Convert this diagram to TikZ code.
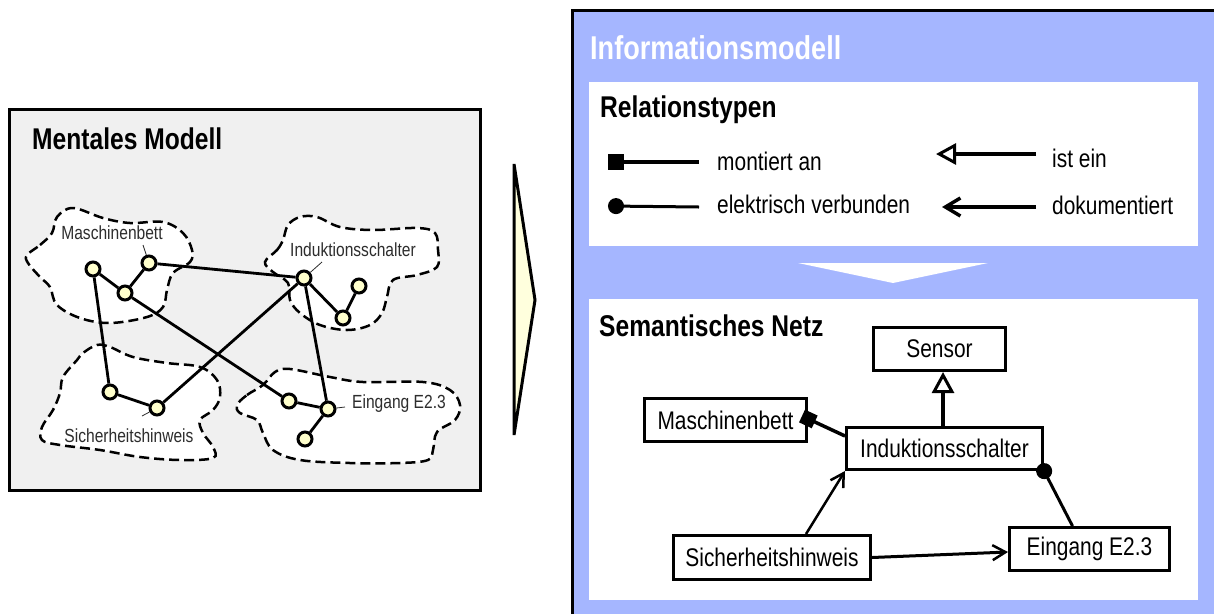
\documentclass[tikz,border=0pt]{standalone}
\usepackage{fontspec}
\setmainfont{Liberation Sans}[FakeStretch=0.82]
\usetikzlibrary{arrows.meta,calc}
\definecolor{panelblue}{RGB}{165,182,255}
\definecolor{leftgray}{RGB}{240,240,240}
\definecolor{nodeyellow}{RGB}{255,255,204}
\definecolor{chevroncol}{RGB}{255,255,221}
\definecolor{labelgray}{RGB}{45,45,45}
\begin{document}
\begin{tikzpicture}[x=1pt,y=-1pt,
  mnode/.style={circle, draw=black, line width=3pt, fill=nodeyellow, minimum size=14pt, inner sep=0pt},
  medge/.style={line width=2.8pt},
  blob/.style={draw=black, dash pattern=on 10pt off 5pt, line width=2.5pt, fill=white},
  mlabel/.style={font=\fontsize{19}{22}\selectfont, text=labelgray, inner sep=0pt},
  leader/.style={line width=0.8pt, draw=labelgray},
  bigtitle/.style={font=\fontsize{30}{34}\selectfont\bfseries, inner sep=0pt, anchor=base west},
  sbox/.style={draw=black, line width=3pt, fill=white, font=\fontsize{25.5}{28}\selectfont, inner sep=0pt},
  ltext/.style={font=\fontsize{25.5}{28}\selectfont, inner sep=0pt, anchor=base west},
]
\useasboundingbox (0,0) rectangle (1214,614);
\fill[white] (0,0) rectangle (1214,614);

% ---------- left panel ----------
\draw[line width=3pt, fill=leftgray] (9.5,109.5) rectangle (480.5,490.5);
\node[bigtitle] (mtitle) at (32,149) {Mentales Modell};

\draw[blob] plot[smooth cycle, tension=0.6] coordinates {(27,255) (40,245) (52,233) (57,217) (73,208) (103,218) (130,223) (163,222) (183,233) (192,250) (190,262) (173,273) (167,290) (163,307) (147,317) (110,323) (80,318) (57,305) (50,287) (40,277) (28,263)};
\draw[blob] plot[smooth cycle, tension=0.6] coordinates {(265,262) (277,250) (283,240) (288,225) (300,217) (317,217) (340,227) (373,230) (417,228) (435,233) (438,250) (437,267) (417,275) (393,280) (387,297) (382,313) (370,325) (347,330) (320,325) (300,313) (290,300) (288,283) (273,272)};
\draw[blob] plot[smooth cycle, tension=0.6] coordinates {(237,405) (247,395) (263,385) (275,372) (290,369) (330,377) (363,382) (423,382) (450,390) (460,405) (455,420) (437,432) (433,450) (428,460) (400,463) (350,463) (300,460) (273,450) (263,433) (257,420) (240,413)};
\draw[blob] plot[smooth cycle, tension=0.6] coordinates {(83,353) (97,345) (110,347) (133,357) (167,363) (200,367) (217,380) (220,397) (213,410) (200,420) (203,433) (213,447) (213,458) (180,460) (140,457) (100,450) (60,445) (42,440) (42,427) (53,410) (60,393) (63,377) (77,360)};

\node[mnode] (M1) at (93,269) {};
\node[mnode] (M2) at (125,293) {};
\node[mnode] (M3) at (149,263) {};
\node[mnode] (I1) at (304,278) {};
\node[mnode] (I2) at (343,318) {};
\node[mnode] (I3) at (359,286) {};
\node[mnode] (S1) at (110,392) {};
\node[mnode] (S2) at (157,408) {};
\node[mnode] (E1) at (289,401) {};
\node[mnode] (E2) at (328,409) {};
\node[mnode] (E3) at (305,439) {};

\draw[medge] (M1) -- (M2);
\draw[medge] (M2) -- (M3);
\draw[medge] (M3) -- (I1);
\draw[medge] (M1) -- (S1);
\draw[medge] (M2) -- (E1);
\draw[medge] (S1) -- (S2);
\draw[medge] (S2) -- (I1);
\draw[medge] (I1) -- (I2);
\draw[medge] (I2) -- (I3);
\draw[medge] (I1) -- (E2);
\draw[medge] (E1) -- (E2);
\draw[medge] (E2) -- (E3);

\node[mlabel] (lM) at (112,233) {Maschinenbett};
\node[mlabel] (lI) at (353,250) {Induktionsschalter};
\node[mlabel] (lE) at (399,404) {Eingang E2.3};
\node[mlabel] (lS) at (129,436) {Sicherheitshinweis};
\coordinate (cM) at (143,245);
\coordinate (cI) at (322,262);
\coordinate (cE) at (345,407);
\coordinate (cS) at (142,416);
\draw[leader] (cM) -- (M3);
\draw[leader] (cI) -- (I1);
\draw[leader] (cE) -- (E2);
\draw[leader] (cS) -- (S2);

% ---------- chevron ----------
\draw[line width=3pt, fill=chevroncol, line join=miter] (514,164) -- (535,300) -- (514,435) -- cycle;

% ---------- right panel ----------
\fill[panelblue] (572,10) rectangle (1214,614);
\draw[line width=3pt] (572,614) -- (572,10) -- (1214,10);
\node[bigtitle, font=\fontsize{33}{36}\selectfont\bfseries, text=white] (ititle) at (590,59) {Informationsmodell};

\fill[white] (589,82) rectangle (1198,246);
\fill[white] (589,299) rectangle (1198,600);
\fill[white] (798,263) -- (988,263) -- (893,283) -- cycle;

\node[bigtitle] (rtitle) at (600,117) {Relationstypen};
\node[bigtitle] (stitle) at (599,336) {Semantisches Netz};

% legend
\coordinate (a1s) at (608,162);
\coordinate (a1e) at (699,162);
\coordinate (a2s) at (608,206);
\coordinate (a2e) at (699,207);
\coordinate (a3s) at (1036,154);
\coordinate (a3e) at (936,154);
\coordinate (a4s) at (1036,207);
\coordinate (a4e) at (942,207);
\draw[line width=4pt, {Square[length=16pt,width=16pt]}-] (a1s) -- (a1e);
\draw[line width=3pt, {Circle[length=16pt,width=16pt]}-] (a2s) -- (a2e);
\draw[line width=4pt, -{Triangle[open,length=20pt,width=21pt,line width=3pt]}] (a3s) -- (a3e);
\draw[line width=4pt, -{Straight Barb[length=15pt,width=18pt,line width=3.5pt]}] (a4s) -- (a4e);
\node[ltext] (t1) at (717,170) {montiert an};
\node[ltext] (t2) at (717,213) {elektrisch verbunden};
\node[ltext] (t3) at (1052,167) {ist ein};
\node[ltext] (t4) at (1052,214) {dokumentiert};

% semantic net
\node[sbox, minimum width=132pt, minimum height=43pt] (sensor) at (939.5,349) {Sensor};
\node[sbox, minimum width=162pt, minimum height=43pt] (masch) at (725.5,420) {Maschinenbett};
\node[sbox, minimum width=196pt, minimum height=42pt] (induk) at (944.5,448.5) {Induktionsschalter};
\node[sbox, minimum width=197pt, minimum height=44pt] (sicher) at (772,557.5) {Sicherheitshinweis};
\node[sbox, minimum width=160pt, minimum height=43pt] (eingang) at (1089.5,549) {Eingang E2.3};

\draw[line width=3.5pt, -{Triangle[open,length=21pt,width=22pt,line width=3pt]}] ($(induk.north)+(-1.5,0)$) -- ($(induk.north |- sensor.south)+(-1.5,0)$);
\draw[line width=3.5pt, -{Square[length=14pt,width=14pt]}] ($(induk.north west)+(0,10)$) -- ($(masch.east)+(-6,-4)$);
\draw[line width=2.5pt, -{Straight Barb[length=13pt,width=15pt,line width=2.5pt]}] ($(sicher.north)+(34,0)$) -- (induk.south west);
\draw[line width=3pt, -{Straight Barb[length=13pt,width=15pt,line width=2.5pt]}] (sicher.east) -- ($(eingang.west)+(0,3)$);
\draw[line width=3pt, -{Circle[length=16pt,width=16pt]}] ($(eingang.north)+(-17,0)$) -- ($(induk.south east)+(-3.5,-7)$);
\end{tikzpicture}
\end{document}
